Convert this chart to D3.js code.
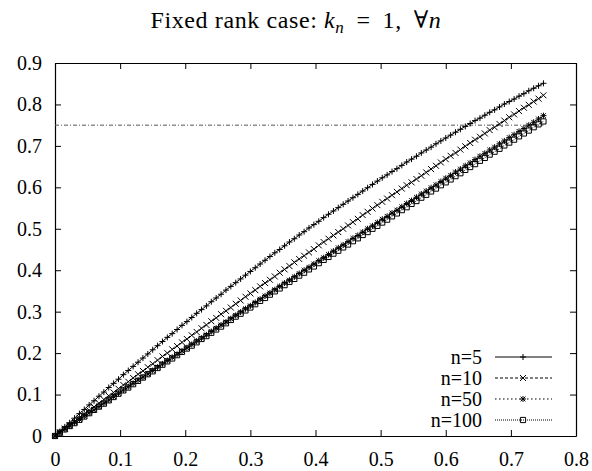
<!DOCTYPE html>
<html><head><meta charset="utf-8">
<script src="https://cdn.jsdelivr.net/npm/d3@7"></script>
<style>
html,body{margin:0;padding:0;background:#fff;}
svg text{font-family:"Liberation Serif","DejaVu Serif","Times New Roman",serif !important;}
</style></head>
<body>
<svg id="chart" width="592" height="471"></svg>
<script>
// ---- data ----
const xValues = [0,0.0075,0.015,0.0225,0.03,0.0375,0.045,0.0525,0.06,0.0675,0.075,0.0825,0.09,0.0975,0.105,0.1125,0.12,0.1275,0.135,0.1425,0.15,0.1575,0.165,0.1725,0.18,0.1875,0.195,0.2025,0.21,0.2175,0.225,0.2325,0.24,0.2475,0.255,0.2625,0.27,0.2775,0.285,0.2925,0.3,0.3075,0.315,0.3225,0.33,0.3375,0.345,0.3525,0.36,0.3675,0.375,0.3825,0.39,0.3975,0.405,0.4125,0.42,0.4275,0.435,0.4425,0.45,0.4575,0.465,0.4725,0.48,0.4875,0.495,0.5025,0.51,0.5175,0.525,0.5325,0.54,0.5475,0.555,0.5625,0.57,0.5775,0.585,0.5925,0.6,0.6075,0.615,0.6225,0.63,0.6375,0.645,0.6525,0.66,0.6675,0.675,0.6825,0.69,0.6975,0.705,0.7125,0.72,0.7275,0.735,0.7425,0.75];
const seriesN5 = [0,0.011,0.022,0.032,0.043,0.054,0.064,0.075,0.085,0.096,
0.106,0.117,0.127,0.137,0.148,0.158,0.168,0.178,0.188,0.198,
0.208,0.218,0.228,0.238,0.247,0.257,0.267,0.276,0.286,0.296,
0.305,0.314,0.324,0.333,0.342,0.352,0.361,0.370,0.379,0.388,
0.397,0.406,0.415,0.424,0.433,0.442,0.450,0.459,0.468,0.476,
0.485,0.493,0.502,0.510,0.518,0.527,0.535,0.543,0.551,0.559,
0.567,0.575,0.583,0.591,0.599,0.607,0.615,0.623,0.630,0.638,
0.645,0.653,0.661,0.668,0.675,0.683,0.690,0.697,0.705,0.712,
0.719,0.726,0.733,0.740,0.747,0.754,0.761,0.767,0.774,0.781,
0.787,0.794,0.801,0.807,0.813,0.820,0.826,0.833,0.839,0.845,
0.851];
const seriesN10 = [0,0.009,0.018,0.026,0.035,0.044,0.053,0.062,0.070,0.079,
0.088,0.097,0.105,0.114,0.123,0.131,0.140,0.149,0.157,0.166,
0.174,0.183,0.192,0.200,0.209,0.217,0.226,0.234,0.243,0.251,
0.260,0.268,0.277,0.285,0.294,0.302,0.310,0.319,0.327,0.336,
0.344,0.352,0.361,0.369,0.377,0.385,0.394,0.402,0.410,0.419,
0.427,0.435,0.443,0.451,0.460,0.468,0.476,0.484,0.492,0.500,
0.508,0.516,0.524,0.533,0.541,0.549,0.557,0.565,0.573,0.581,
0.589,0.597,0.605,0.612,0.620,0.628,0.636,0.644,0.652,0.660,
0.668,0.676,0.683,0.691,0.699,0.707,0.715,0.722,0.730,0.738,
0.745,0.753,0.761,0.769,0.776,0.784,0.792,0.799,0.807,0.814,
0.822];
const seriesN50 = [0,0.008,0.016,0.024,0.032,0.040,0.048,0.056,0.063,0.071,
0.079,0.087,0.095,0.103,0.111,0.119,0.127,0.135,0.142,0.150,
0.158,0.166,0.174,0.182,0.190,0.197,0.205,0.213,0.221,0.229,
0.236,0.244,0.252,0.260,0.268,0.275,0.283,0.291,0.299,0.307,
0.314,0.322,0.330,0.338,0.345,0.353,0.361,0.369,0.376,0.384,
0.392,0.400,0.407,0.415,0.423,0.430,0.438,0.446,0.454,0.461,
0.469,0.477,0.484,0.492,0.500,0.507,0.515,0.523,0.530,0.538,
0.545,0.553,0.561,0.568,0.576,0.584,0.591,0.599,0.606,0.614,
0.622,0.629,0.637,0.644,0.652,0.659,0.667,0.675,0.682,0.690,
0.697,0.705,0.712,0.720,0.727,0.735,0.742,0.750,0.757,0.765,
0.773];
const seriesN100 = [0,0.008,0.016,0.024,0.031,0.039,0.047,0.055,0.063,0.071,
0.078,0.086,0.094,0.102,0.110,0.117,0.125,0.133,0.141,0.149,
0.156,0.164,0.172,0.180,0.187,0.195,0.203,0.211,0.218,0.226,
0.234,0.241,0.249,0.257,0.264,0.272,0.280,0.288,0.295,0.303,
0.310,0.318,0.326,0.333,0.341,0.349,0.356,0.364,0.372,0.379,
0.387,0.394,0.402,0.409,0.417,0.425,0.432,0.440,0.447,0.455,
0.462,0.470,0.477,0.485,0.492,0.500,0.507,0.515,0.522,0.530,
0.537,0.545,0.552,0.560,0.567,0.575,0.582,0.590,0.597,0.605,
0.612,0.619,0.627,0.634,0.642,0.649,0.656,0.664,0.671,0.679,
0.686,0.693,0.701,0.708,0.715,0.723,0.730,0.737,0.745,0.752,
0.759];
const seriesNames = ["n=5","n=10","n=50","n=100"];
const thresholdX = [0, 0.75];
const thresholdY = 0.75;
const xTicks = [0,0.1,0.2,0.3,0.4,0.5,0.6,0.7,0.8];
const xTickLabels = ["0","0.1","0.2","0.3","0.4","0.5","0.6","0.7","0.8"];
const yTicks = [0,0.1,0.2,0.3,0.4,0.5,0.6,0.7,0.8,0.9];
const yTickLabels = ["0","0.1","0.2","0.3","0.4","0.5","0.6","0.7","0.8","0.9"];

// ---- chart ----
const svg = d3.select("#chart");
const L = 55, R = 576, T = 63, B = 436;
const x = d3.scaleLinear().domain([0, 0.8]).range([L, R]);
const y = d3.scaleLinear().domain([0, 0.9]).range([B, T]);
const FS = 20;
const SERIF = "'Liberation Serif','DejaVu Serif','Times New Roman',serif";

// title
const title = svg.append("text").attr("x", 296).attr("y", 28)
  .attr("text-anchor", "middle").style("font-size", "24px").style("font-family", SERIF)
  .style("letter-spacing", "0.6px").attr("fill", "#000");
title.append("tspan").text("Fixed rank case:  ");
title.append("tspan").attr("font-style", "italic").text("k");
title.append("tspan").attr("font-style", "italic").style("font-size", "17px").attr("dy", 5).text("n");
title.append("tspan").attr("dy", -5).text(" \u2009=\u2009 1,  \u2009\u2200");
title.append("tspan").attr("font-style", "italic").text("n");

// axes
function styleAxis(g) {
  g.attr("font-family", null).attr("font-size", null);
  g.selectAll("path.domain").attr("stroke", "#000").attr("stroke-width", 1.2);
  g.selectAll(".tick line").attr("stroke", "#000").attr("stroke-width", 1);
  g.selectAll(".tick text").style("font-size", FS + "px").style("font-family", SERIF).attr("fill", "#000");
}
svg.append("g").attr("transform", `translate(0,${B})`)
  .call(d3.axisBottom(x).tickValues(xTicks).tickFormat((d, i) => xTickLabels[i])
    .tickSizeInner(-6).tickSizeOuter(0).tickPadding(16)).call(styleAxis);
svg.append("g").attr("transform", `translate(0,${T})`)
  .call(d3.axisTop(x).tickValues(xTicks).tickFormat("")
    .tickSizeInner(-6).tickSizeOuter(0)).call(styleAxis);
svg.append("g").attr("transform", `translate(${L},0)`)
  .call(d3.axisLeft(y).tickValues(yTicks).tickFormat((d, i) => yTickLabels[i])
    .tickSizeInner(-6).tickSizeOuter(0).tickPadding(13)).call(styleAxis);
svg.append("g").attr("transform", `translate(${R},0)`)
  .call(d3.axisRight(y).tickValues(yTicks).tickFormat("")
    .tickSizeInner(-6).tickSizeOuter(0)).call(styleAxis);

// threshold line
svg.append("line")
  .attr("x1", x(thresholdX[0])).attr("x2", x(thresholdX[1]))
  .attr("y1", y(thresholdY)).attr("y2", y(thresholdY))
  .attr("stroke", "#555").attr("stroke-width", 1).attr("stroke-dasharray", "4,2,1,2");

// markers
const markerPaths = [
  s => `M${-s},0H${s}M0,${-s}V${s}`,
  s => `M${-s},${-s}L${s},${s}M${-s},${s}L${s},${-s}`,
  s => `M${-s},0H${s}M0,${-s}V${s}M${-s*0.8},${-s*0.8}L${s*0.8},${s*0.8}M${-s*0.8},${s*0.8}L${s*0.8},${-s*0.8}`,
  s => `M${-s},${-s}H${s}V${s}H${-s}Z`
];
const dashes = [null, "3,2", "1.5,2.5", "1,1"];
const allSeries = [seriesN5, seriesN10, seriesN50, seriesN100];
const line = d3.line().x((d, i) => x(xValues[i])).y(d => y(d));

allSeries.forEach((vals, k) => {
  const g = svg.append("g");
  g.append("path").datum(vals).attr("d", line).attr("fill", "none")
    .attr("stroke", "#000").attr("stroke-width", 1)
    .attr("stroke-dasharray", dashes[k]);
  g.selectAll("path.m").data(vals).enter().append("path").attr("class", "m")
    .attr("transform", (d, i) => `translate(${x(xValues[i])},${y(d)})`)
    .attr("d", markerPaths[k](k === 3 ? 2.6 : 3))
    .attr("fill", "none").attr("stroke", "#000").attr("stroke-width", 1);
});

// legend
const legY = [357, 378, 399, 420];
seriesNames.forEach((name, k) => {
  const g = svg.append("g");
  g.append("text").attr("x", 482).attr("y", legY[k]).attr("dy", "0.35em")
    .attr("text-anchor", "end").style("font-size", FS + "px").style("font-family", SERIF)
    .attr("fill", "#000").text(name);
  g.append("line").attr("x1", 495).attr("x2", 552).attr("y1", legY[k]).attr("y2", legY[k])
    .attr("stroke", "#000").attr("stroke-width", 1).attr("stroke-dasharray", dashes[k]);
  g.append("path").attr("transform", `translate(523,${legY[k]})`)
    .attr("d", markerPaths[k](k === 3 ? 2.6 : 3))
    .attr("fill", "none").attr("stroke", "#000").attr("stroke-width", 1);
});
</script>
</body></html>
